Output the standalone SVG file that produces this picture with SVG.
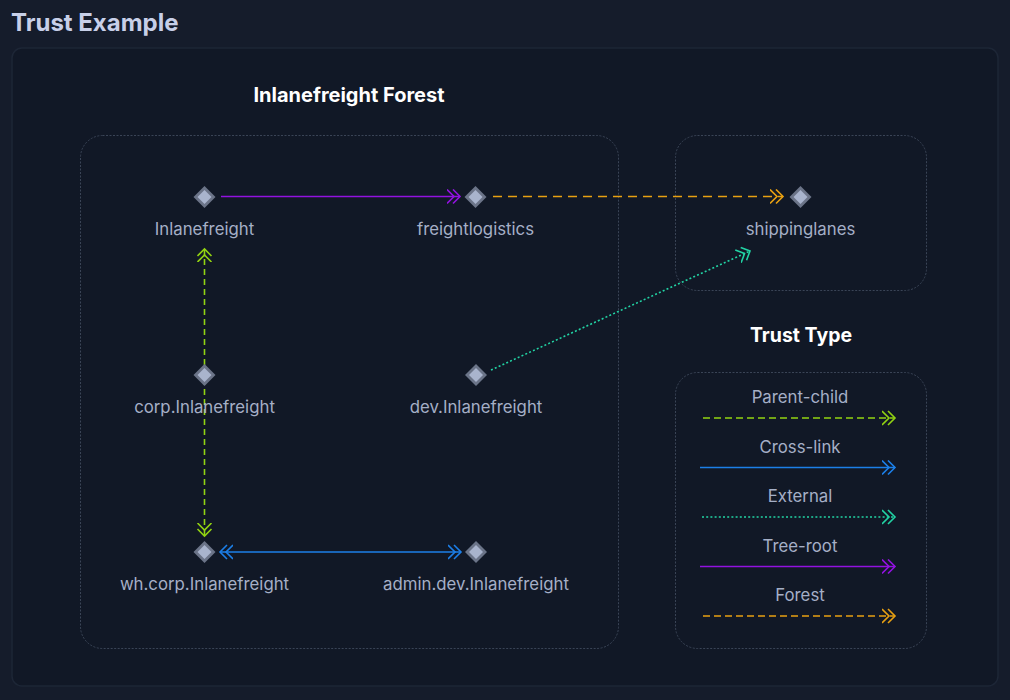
<svg xmlns="http://www.w3.org/2000/svg" width="1010" height="700" viewBox="0 0 1010 700">
<style>
.lbl{font-family:Inter,"Noto Sans","Liberation Sans",sans-serif;font-size:16.8px;fill:#a5afc6;text-anchor:middle}
.ttl{font-family:Inter,"Noto Sans","Liberation Sans",sans-serif;font-size:20px;font-weight:700;fill:#ffffff;text-anchor:middle}
.box{fill:none;stroke:#3a4456;stroke-width:1;stroke-dasharray:2 1.5}
.dout{fill:#6b7488}
.din{fill:#a9b4cd}
.c{fill:none;stroke-width:1.6}
</style>
<defs>
<marker id="mP" markerUnits="userSpaceOnUse" markerWidth="16" markerHeight="18" refX="13" refY="8" orient="auto-start-reverse" viewBox="0 0 16 18"><path d="M0,1 L7,8 L0,15 M6,1 L13,8 L6,15" fill="none" stroke="#9212e0" stroke-width="1.6"/></marker>
<marker id="mF" markerUnits="userSpaceOnUse" markerWidth="16" markerHeight="18" refX="13" refY="8" orient="auto-start-reverse" viewBox="0 0 16 18"><path d="M0,1 L7,8 L0,15 M6,1 L13,8 L6,15" fill="none" stroke="#e8a012" stroke-width="1.6"/></marker>
<marker id="mE" markerUnits="userSpaceOnUse" markerWidth="16" markerHeight="18" refX="13" refY="8" orient="auto-start-reverse" viewBox="0 0 16 18"><path d="M0,1 L7,8 L0,15 M6,1 L13,8 L6,15" fill="none" stroke="#22d3a4" stroke-width="1.6"/></marker>
<marker id="mG" markerUnits="userSpaceOnUse" markerWidth="16" markerHeight="18" refX="13" refY="8" orient="auto-start-reverse" viewBox="0 0 16 18"><path d="M0,1 L7,8 L0,15 M6,1 L13,8 L6,15" fill="none" stroke="#92d312" stroke-width="1.6"/></marker>
<marker id="mB" markerUnits="userSpaceOnUse" markerWidth="16" markerHeight="18" refX="13" refY="8" orient="auto-start-reverse" viewBox="0 0 16 18"><path d="M0,1 L7,8 L0,15 M6,1 L13,8 L6,15" fill="none" stroke="#1c7fe8" stroke-width="1.6"/></marker>
<g id="dia"><path class="dout" d="M0,-11 L11,0 L0,11 L-11,0 Z"/><path class="din" d="M0,-7 L7,0 L0,7 L-7,0 Z"/></g>
</defs>
<rect x="0" y="0" width="1010" height="700" fill="#151c2b"/>
<rect x="12" y="48" width="986" height="638" rx="10" fill="#111826" stroke="#1d2636" stroke-width="1.5"/>
<text x="11" y="31" font-family="Inter,'Noto Sans','Liberation Sans',sans-serif" font-size="24" font-weight="700" fill="#c7cfe8">Trust Example</text>
<text class="ttl" x="349" y="102">Inlanefreight Forest</text>
<text class="ttl" x="801" y="342" style="font-size:19.5px">Trust Type</text>
<rect class="box" x="80.5" y="135.5" width="538" height="513" rx="22"/>
<rect class="box" x="675.5" y="135.5" width="251" height="155" rx="22"/>
<rect class="box" x="675.5" y="372.5" width="251" height="276" rx="22"/>
<g id="connectors">
<line class="c" x1="221" y1="196.5" x2="460" y2="196.5" stroke="#9212e0" marker-end="url(#mP)"/>
<line class="c" x1="493" y1="196.5" x2="783" y2="196.5" stroke="#e8a012" stroke-dasharray="9 6" marker-end="url(#mF)"/>
<line class="c" x1="491" y1="370" x2="750" y2="251" stroke="#22d3a4" stroke-dasharray="2 2.2" marker-end="url(#mE)"/>
<line class="c" x1="204.5" y1="249" x2="204.5" y2="536" stroke="#92d312" stroke-dasharray="6 4" marker-start="url(#mG)" marker-end="url(#mG)"/>
<line class="c" x1="220" y1="552" x2="461" y2="552" stroke="#1c7fe8" marker-start="url(#mB)" marker-end="url(#mB)"/>
</g>
<g id="n-inlanefreight"><use href="#dia" x="204.5" y="197"/><text class="lbl" x="204.5" y="235">Inlanefreight</text></g>
<g id="n-freightlogistics"><use href="#dia" x="475.5" y="197"/><text class="lbl" x="475.5" y="235">freightlogistics</text></g>
<g id="n-shippinglanes"><use href="#dia" x="800.5" y="197"/><text class="lbl" x="800.5" y="235">shippinglanes</text></g>
<g id="n-corp"><use href="#dia" x="204.5" y="375"/><text class="lbl" x="204.5" y="413">corp.Inlanefreight</text></g>
<g id="n-dev"><use href="#dia" x="476" y="375"/><text class="lbl" x="476" y="413">dev.Inlanefreight</text></g>
<g id="n-wh"><use href="#dia" x="204.5" y="552"/><text class="lbl" x="204.5" y="590">wh.corp.Inlanefreight</text></g>
<g id="n-admin"><use href="#dia" x="476" y="552"/><text class="lbl" x="476" y="590">admin.dev.Inlanefreight</text></g>
<g id="legend">
<text class="lbl" x="800" y="403">Parent-child</text>
<line class="c" x1="703" y1="418" x2="895" y2="418" stroke="#92d312" stroke-dasharray="7 4" marker-end="url(#mG)"/>
<text class="lbl" x="800" y="453">Cross-link</text>
<line class="c" x1="700" y1="467.5" x2="895" y2="467.5" stroke="#1c7fe8" marker-end="url(#mB)"/>
<text class="lbl" x="800" y="502">External</text>
<line class="c" x1="702" y1="517" x2="895" y2="517" stroke="#22d3a4" stroke-dasharray="2 2.2" marker-end="url(#mE)"/>
<text class="lbl" x="800" y="552">Tree-root</text>
<line class="c" x1="700" y1="566.5" x2="895" y2="566.5" stroke="#9212e0" marker-end="url(#mP)"/>
<text class="lbl" x="800" y="601">Forest</text>
<line class="c" x1="703" y1="616" x2="895" y2="616" stroke="#e8a012" stroke-dasharray="7 4" marker-end="url(#mF)"/>
</g>
</svg>
